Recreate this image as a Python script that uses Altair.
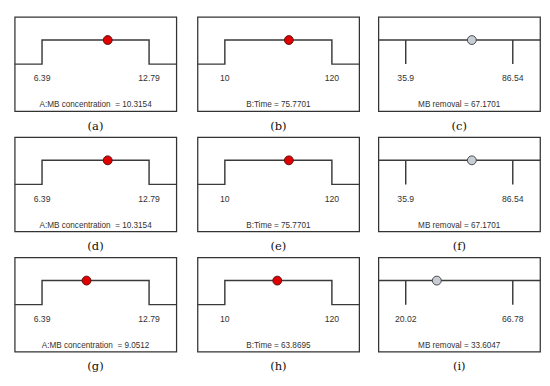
import altair as alt
import pandas as pd

letters = ["a", "b", "c", "d", "e", "f", "g", "h", "i"]
kinds = ["factor", "factor", "response"] * 3
names = ["A:MB concentration \u00a0=", "B:Time =", "MB removal ="] * 3
lows = [6.39, 10, 35.9, 6.39, 10, 35.9, 6.39, 10, 20.02]
highs = [12.79, 120, 86.54, 12.79, 120, 86.54, 12.79, 120, 66.78]
low_labels = ["6.39", "10", "35.9", "6.39", "10", "35.9", "6.39", "10", "20.02"]
high_labels = ["12.79", "120", "86.54", "12.79", "120", "86.54", "12.79", "120", "66.78"]
values = [10.3154, 75.7701, 67.1701, 10.3154, 75.7701, 67.1701, 9.0512, 63.8695, 33.6047]
value_labels = ["10.3154", "75.7701", "67.1701", "10.3154", "75.7701", "67.1701",
                "9.0512", "63.8695", "33.6047"]

W, H = 168, 98
LINE = "#3a3a3a"
TXT = "#333333"
FONT = "Liberation Sans"


def panel(i):
    lo, hi, v = lows[i], highs[i], values[i]
    pad = 0.255 * (hi - lo)
    x0, x1 = lo - pad, hi + pad
    xs = alt.Scale(domain=[x0, x1], nice=False, zero=False)
    ys = alt.Scale(domain=[0, 1], range=[49, 24])
    layers = []
    if kinds[i] == "factor":
        path = pd.DataFrame({"x": [x0, lo, lo, hi, hi, x1],
                             "d": [0, 0, 1, 1, 0, 0],
                             "o": list(range(6))})
        layers.append(alt.Chart(path).mark_line(color=LINE, strokeWidth=1.5).encode(
            x=alt.X("x:Q", scale=xs, axis=None),
            y=alt.Y("d:Q", scale=ys, axis=None),
            order="o:O"))
        fill, dot_stroke = "#e00000", "#5a1010"
    else:
        hl = pd.DataFrame({"x": [x0], "x2": [x1], "d": [1]})
        layers.append(alt.Chart(hl).mark_rule(color=LINE, strokeWidth=1.5).encode(
            x=alt.X("x:Q", scale=xs, axis=None), x2="x2:Q",
            y=alt.Y("d:Q", scale=ys, axis=None)))
        tk = pd.DataFrame({"x": [lo, hi], "d": [1, 1], "d2": [0, 0]})
        layers.append(alt.Chart(tk).mark_rule(color=LINE, strokeWidth=1.5).encode(
            x=alt.X("x:Q", scale=xs, axis=None),
            y=alt.Y("d:Q", scale=ys, axis=None), y2="d2:Q"))
        fill, dot_stroke = "#c8ccd4", "#444444"
    lab = pd.DataFrame({"x": [lo, hi], "t": [low_labels[i], high_labels[i]]})
    layers.append(alt.Chart(lab).mark_text(font=FONT, fontSize=9, color=TXT,
                                           baseline="middle").encode(
        x=alt.X("x:Q", scale=xs, axis=None), y=alt.value(64), text="t:N"))
    dot = pd.DataFrame({"x": [v], "d": [1]})
    layers.append(alt.Chart(dot).mark_point(filled=True, size=85, fill=fill, opacity=1,
                                            stroke=dot_stroke, strokeWidth=1).encode(
        x=alt.X("x:Q", scale=xs, axis=None),
        y=alt.Y("d:Q", scale=ys, axis=None)))
    cap = pd.DataFrame({"t": [names[i] + " " + value_labels[i]]})
    layers.append(alt.Chart(cap).mark_text(font=FONT, fontSize=8.5, color=TXT,
                                           baseline="middle").encode(
        x=alt.value(W / 2), y=alt.value(H - 7), text="t:N"))
    return alt.layer(*layers).properties(
        width=W, height=H,
        title=alt.TitleParams("(" + letters[i] + ")", orient="bottom", font="DejaVu Serif",
                              fontSize=12, fontWeight="normal", color="#111111", offset=10))


rows = [alt.hconcat(*[panel(r * 3 + c) for c in range(3)], spacing=14) for r in range(3)]
chart = alt.vconcat(*rows, spacing=4).properties(
    padding={"left": 3, "top": 1, "right": 0, "bottom": 0}
).configure_view(stroke="#333333", strokeWidth=1.3)

chart.save("out.html", embed_options={"renderer": "svg", "actions": False})
